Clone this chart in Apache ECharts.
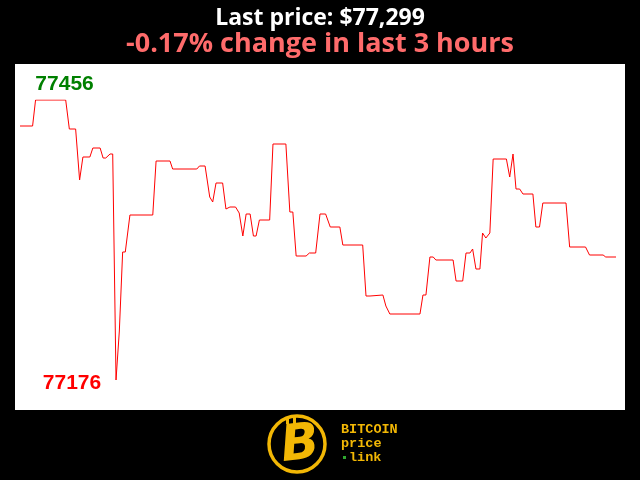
<!DOCTYPE html>
<html>
<head>
<meta charset="utf-8">
<script src="https://cdn.jsdelivr.net/npm/echarts@6/dist/echarts.min.js"></script>
<style>html,body{margin:0;padding:0;background:#000;}#c{width:640px;height:480px;}</style>
</head>
<body>
<div id="c"></div>
<script>
// minutes since start of the 3-hour window
var minutes = [0,3.8,4.7,13.8,14.9,16.8,18.0,19.0,21.1,22.0,24.2,25.1,25.9,27.2,28.0,29.0,30.0,31.0,31.8,33.2,
  40.1,41.1,45.3,46.1,53.4,54.2,55.9,57.3,58.2,59.2,61.2,62.2,63.4,65.1,66.2,67.3,68.3,69.5,70.5,71.3,
  72.3,75.4,76.4,80.3,81.5,82.4,83.4,86.4,87.4,89.3,90.6,92.3,93.7,96.6,97.5,103.5,104.5,105.7,106.2,109.6,
  110.5,111.7,120.8,121.7,122.6,123.8,124.8,125.6,130.8,131.7,133.7,134.7,135.9,136.7,137.7,138.9,139.7,140.7,141.9,142.9,
  146.9,147.9,148.9,149.8,150.9,151.9,154.9,155.8,156.9,157.9,164.9,166.0,170.8,172.0,176.1,176.9,180];
var prices = [77430,77430,77456,77456,77427,77427,77376,77399,77399,77408,77408,77398,77398,77402,77402,77176,77225,77304,77304,77341,
  77341,77395,77395,77387,77387,77390,77390,77359,77354,77373,77373,77347,77349,77349,77343,77320,77342,77342,77320,77320,
  77336,77336,77412,77412,77344,77344,77300,77300,77303,77303,77342,77342,77329,77329,77311,77311,77260,77260,77261,77261,
  77250,77242,77242,77261,77261,77299,77299,77296,77296,77275,77275,77303,77303,77307,77287,77287,77323,77318,77323,77397,
  77397,77379,77402,77367,77367,77362,77362,77329,77329,77353,77353,77309,77309,77301,77301,77299,77299];
var titleLine1 = 'Last price: $77,299';
var titleLine2 = '-0.17% change in last 3 hours';
var brandLines = ['BITCOIN', 'price', 'link'];

var chart = echarts.init(document.getElementById('c'), null, {renderer: 'canvas'});
var gold = '#f2b705';
var series = minutes.map(function (m, i) { return [m, prices[i]]; });
var minP = Math.min.apply(null, prices), maxP = Math.max.apply(null, prices);

chart.setOption({
  backgroundColor: '#000',
  animation: false,
  title: [
    {text: titleLine1, left: 'center', top: 2,
     textStyle: {color: '#fff', fontFamily: 'Open Sans', fontWeight: 'bold', fontSize: 23}},
    {text: titleLine2, left: 'center', top: 26,
     textStyle: {color: '#ff6b6b', fontFamily: 'Open Sans', fontWeight: 'bold', fontSize: 27}}
  ],
  grid: {left: 20, right: 24, top: 100, bottom: 100},
  xAxis: {type: 'value', min: 0, max: 180, show: false},
  yAxis: {type: 'value', min: minP, max: maxP, show: false},
  graphic: [
    {type: 'rect', z: -10, shape: {x: 15, y: 64, width: 610, height: 346}, style: {fill: '#fff'}},
    {type: 'circle', shape: {cx: 297, cy: 444, r: 28}, style: {fill: 'none', stroke: gold, lineWidth: 3.5}},
    {type: 'text', x: 300, y: 446, rotation: 0.12,
     style: {text: 'B', fill: gold, font: 'italic bold 50px "DejaVu Sans"', textAlign: 'center', textVerticalAlign: 'middle'}},
    {type: 'rect', shape: {x: 286, y: 417, width: 3, height: 7}, style: {fill: gold}},
    {type: 'rect', shape: {x: 293, y: 417, width: 3, height: 7}, style: {fill: gold}},
    {type: 'text', x: 341, y: 430, style: {text: brandLines[0], fill: gold, font: 'bold 13.5px "Liberation Mono"', textVerticalAlign: 'middle'}},
    {type: 'text', x: 341, y: 444, style: {text: brandLines[1], fill: gold, font: 'bold 13.5px "Liberation Mono"', textVerticalAlign: 'middle'}},
    {type: 'rect', shape: {x: 343, y: 456, width: 3, height: 3}, style: {fill: '#2fa82f'}},
    {type: 'text', x: 349, y: 458, style: {text: brandLines[2], fill: gold, font: 'bold 13.5px "Liberation Mono"', textVerticalAlign: 'middle'}}
  ],
  series: [{
    type: 'line',
    data: series,
    showSymbol: false,
    lineStyle: {color: '#ff0000', width: 1},
    itemStyle: {color: '#ff0000'},
    markPoint: {
      symbol: 'circle', symbolSize: 0,
      label: {show: true, fontFamily: 'Liberation Sans', fontWeight: 'bold', fontSize: 21},
      data: [
        {type: 'max', label: {color: '#008000', offset: [29, -16], formatter: function (p) { return p.value; }}},
        {type: 'min', label: {color: '#ff0000', offset: [-44, 3], formatter: function (p) { return p.value; }}}
      ]
    }
  }]
});
</script>
</body>
</html>
